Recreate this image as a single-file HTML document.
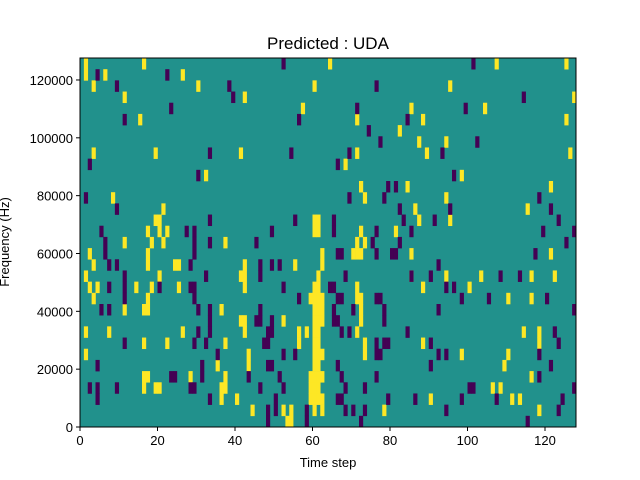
<!DOCTYPE html>
<html><head><meta charset="utf-8"><style>
html,body{margin:0;padding:0;background:#fff;width:640px;height:480px;overflow:hidden}
text{font-family:"Liberation Sans","DejaVu Sans",sans-serif;fill:#000}
</style></head><body>
<svg id="chart" width="640" height="480" xmlns="http://www.w3.org/2000/svg">
<rect width="640" height="480" fill="#fff"/>
<g id="cells"></g>
<g id="axes"></g>
</svg>
<script>
// Time steps (columns) and frequency bins (rows, listed top = highest freq)
const numSteps = 128;
const numBins = 33;
const freqMax = 127600;
const xTicks = [0, 20, 40, 60, 80, 100, 120];
const yTicks = [0, 20000, 40000, 60000, 80000, 100000, 120000];
// Column indices of high (yellow) cells per row, top row first
const highCells = [
 [1,16,64,107,125],
 [1,6,26],
 [3,30,60,95],
 [11,42,127],
 [57,85,104],
 [15,71,88,125],
 [82],
 [87,94],
 [3,19,41,71,89,126],
 [68],
 [32,98],
 [72,84,121],
 [8,73,94],
 [21,86,115],
 [19,20,60,61,87,95],
 [17,20,22,60,61,72,81],
 [11,18,21,37,71,73],
 [2,17,62,70,71,72,85,121],
 [3,17,24,25,42,55,62],
 [1,20,41,42,61,85,94,103,116,122],
 [2,4,14,18,25,42,60,61,71,88,100],
 [3,17,59,60,61,62,71,72,110,116],
 [11,16,17,36,60,61,62,72],
 [41,42,52,60,61,62,72],
 [1,7,26,42,56,58,60,61,71,114,118],
 [16,22,37,56,60,61,73,88,118],
 [1,43,60,61,62,73,98,110],
 [35,43,60,61,109],
 [16,17,28,37,59,60,61,62,116],
 [16,19,20,36,37,59,60,61,106,108],
 [36,40,59,60,61,62,90,111,113],
 [44,52,54,60,62,78,118],
 [53,54]
];
// Column indices of low (purple) cells per row, top row first
const lowCells = [
 [52,101],
 [4,22],
 [9,38,76],
 [39,114],
 [23,71,99],
 [11,56,84],
 [74],
 [77,102],
 [33,54,69,93],
 [2,66],
 [30,96],
 [79,81],
 [1,69,78,118],
 [9,82,95,121],
 [33,55,65,83,91,123],
 [5,27,29,49,65,76,85,119,127],
 [6,29,33,45,75,82,125],
 [6,29,66,67,76,80,81,117],
 [7,9,28,46,49,51,92],
 [11,32,46,68,85,90,108,113],
 [7,11,20,28,29,52,64,65,94,96],
 [11,29,56,66,67,76,77,98,105,120],
 [5,7,30,33,46,65,70,78,92,127],
 [33,45,46,49,65,66,78],
 [30,33,48,49,67,69,84,122],
 [11,29,32,47,48,76,78,79,90,123],
 [35,52,55,76,77,92,94,118],
 [4,31,48,49,66,90,121],
 [23,24,31,43,51,67,76,118],
 [2,4,9,28,29,46,52,68,73,100,101,127],
 [4,33,50,66,67,79,86,98,107,124],
 [48,50,58,68,70,73,94,123],
 [48,58,72,115]
];
const NS='http://www.w3.org/2000/svg';
const plot={x0:80,x1:576,y0:58,y1:427};
function xScale(t){return plot.x0+(t/numSteps)*(plot.x1-plot.x0);}
function yScaleFreq(f){return plot.y1-(f/freqMax)*(plot.y1-plot.y0);}
function rowTop(r){return plot.y0+r*(plot.y1-plot.y0)/numBins;}
function mk(tag,attrs,parent){const e=document.createElementNS(NS,tag);for(const k in attrs)e.setAttribute(k,attrs[k]);parent.appendChild(e);return e;}
const cells=document.getElementById('cells');
const bg=mk('rect',{x:plot.x0,y:plot.y0,width:plot.x1-plot.x0,height:plot.y1-plot.y0,fill:'#21918c'},cells);


function drawCells(list,color,name){
 list.forEach((cols,r)=>{cols.forEach(c=>{
  const x=xScale(c),w=xScale(c+1)-x,y=rowTop(r),h=rowTop(r+1)-y;
  const el=mk('rect',{x:x,y:y,width:w+0.3,height:h+0.3,fill:color},cells);
  
  
 });});
}
drawCells(highCells,'#fde725','high-cell');
drawCells(lowCells,'#440154','low-cell');
const axes=document.getElementById('axes');
const frame=mk('rect',{x:plot.x0,y:plot.y0,width:plot.x1-plot.x0,height:plot.y1-plot.y0,fill:'none',stroke:'#000','stroke-width':1},axes);


xTicks.forEach(v=>{
 const x=xScale(v);
 mk('line',{x1:x,x2:x,y1:plot.y1,y2:plot.y1+4,stroke:'#000'},axes);
 const t=mk('text',{x:x,y:plot.y1+18,'font-size':'13','text-anchor':'middle'},axes);
 t.textContent=v;
 
 
});
yTicks.forEach(v=>{
 const y=yScaleFreq(v);
 mk('line',{x1:plot.x0-4,x2:plot.x0,y1:y,y2:y,stroke:'#000'},axes);
 const t=mk('text',{x:plot.x0-7,y:y+5,'font-size':'13','text-anchor':'end'},axes);
 t.textContent=v;
 
 
});
</script>
<svg style="position:absolute;left:0;top:0" width="640" height="480" xmlns="http://www.w3.org/2000/svg">
<text x="328" y="49" font-size="17" text-anchor="middle">Predicted : UDA</text>
<text x="328" y="467" font-size="13" text-anchor="middle">Time step</text>
<text x="0" y="0" font-size="13" text-anchor="middle" transform="translate(9,242) rotate(-90)">Frequency (Hz)</text>
</svg>
</body></html>
